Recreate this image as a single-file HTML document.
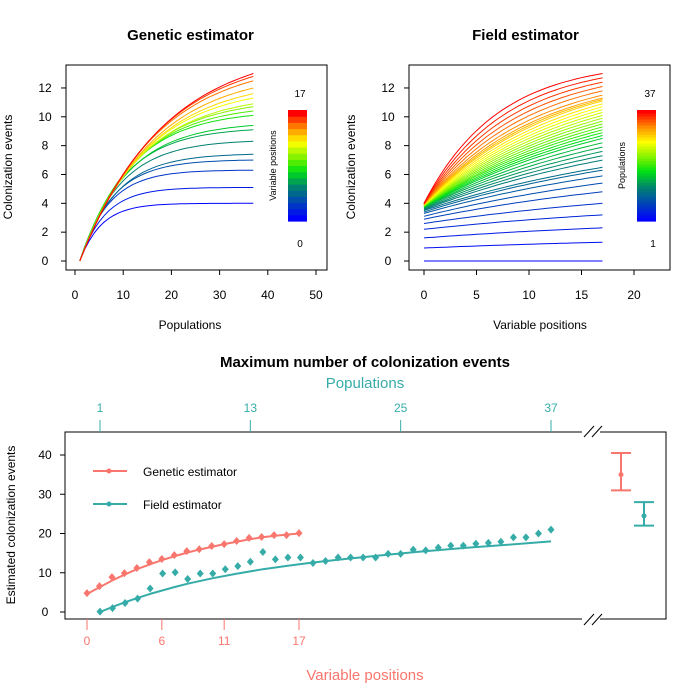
<!DOCTYPE html>
<html><head><meta charset="utf-8"><style>
body{margin:0;background:#fff;}
svg{display:block;font-family:"Liberation Sans",sans-serif;}
</style></head><body>
<svg id="c" width="700" height="700" xmlns="http://www.w3.org/2000/svg"></svg>
<script>
// ---- data ----
var genEnds = [4.0,5.1,6.3,7.0,7.4,8.3,9.1,9.4,10.1,10.4,10.7,10.9,11.3,11.6,12.0,12.5,12.8,13.0];
var fieldStarts = [0,0.9,1.6,2.2,2.6,2.9,3.1,3.3,3.4,3.5,3.55,3.6,3.65,3.7,3.72,3.74,3.76,3.78,3.8,3.8,3.82,3.84,3.85,3.86,3.87,3.88,3.89,3.9,3.9,3.9,3.92,3.93,3.94,3.95,3.96,3.98,4.0];
var fieldEnds = [0,1.3,2.3,3.2,4.0,4.8,5.4,5.9,6.3,6.5,7.0,7.3,7.6,7.9,8.2,8.5,8.7,8.9,9.1,9.3,9.5,9.7,9.9,10.1,10.3,10.5,10.7,10.9,11.1,11.2,11.3,11.5,11.8,12.1,12.4,12.7,13.0];
var genPoints = [4.8,6.6,8.9,9.9,11.2,12.7,13.5,14.5,15.5,16.0,16.8,17.3,18.1,18.9,19.1,19.6,19.6,20.1];
var genFit = [4.6,6.3,8.0,9.5,10.9,12.1,13.2,14.2,15.1,15.9,16.6,17.3,17.9,18.5,19.0,19.4,19.7,20.0];
var fieldPoints = [0.1,1.0,2.3,3.4,6.0,9.8,10.1,8.4,9.8,9.8,10.9,11.7,12.8,15.3,13.4,13.9,13.9,12.5,13.0,13.9,13.9,13.9,13.9,14.8,14.8,15.9,15.7,16.4,16.9,16.9,17.4,17.6,17.9,19.0,19.0,20.0,21.0];
var fieldFitX = [1,2,3,4,5,6,7,8,10,12,14,16,18,20,23,26,30,33,37];
var fieldFitY = [0,1.3,2.5,3.6,4.6,5.5,6.4,7.2,8.6,9.8,10.9,11.8,12.6,13.3,14.3,15.2,16.3,17.0,18.0];
var genCI = [31,35,40.5];
var fieldCI = [22,24.5,28];
var leftXTicks=[0,10,20,30,40,50], rightXTicks=[0,5,10,15,20], yTicks=[0,2,4,6,8,10,12];
var botYTicks=[0,10,20,30,40], vpTicks=[0,6,11,17], popTicks=[1,13,25,37];

var S=document.getElementById('c'), NS='http://www.w3.org/2000/svg';
function el(t,a,txt,p){var e=document.createElementNS(NS,t);for(var k in a)e.setAttribute(k,a[k]);if(txt!=null)e.textContent=txt;(p||S).appendChild(e);return e;}
var RED='#F8766D', TEAL='#36ACA8';
function ramp(t){var st=[[0,0,0,255],[0.18,0,80,170],[0.3,0,130,110],[0.45,0,225,20],[0.55,100,240,0],[0.72,255,255,0],[0.85,255,150,0],[1,255,0,0]];
 for(var i=1;i<st.length;i++){if(t<=st[i][0]){var a=st[i-1],b=st[i],f=(t-a[0])/(b[0]-a[0]);return 'rgb('+[1,2,3].map(function(j){return Math.round(a[j]+f*(b[j]-a[j]))}).join(',')+')';}}return 'rgb(255,0,0)';}

function panel(name,bx,x0,xs,title,xlab,xt,cbx,cbTop,cbBot,cbTitle,n){
 var g=el('g',{});
 var X=function(v){return x0+v*xs}, Y=function(v){return 261-v*14.42};
 var t=el('text',{x:bx[0]+(bx[2]-bx[0])/2+(name=='genetic-panel'?-6:-14),y:40,'text-anchor':'middle','font-size':15,'font-weight':'bold'},title,g);
 var r=el('rect',{x:bx[0],y:65,width:bx[2]-bx[0],height:205,fill:'none',stroke:'#000'},null,g);
 yTicks.forEach(function(v){el('line',{x1:bx[0],x2:bx[0]-5,y1:Y(v),y2:Y(v),stroke:'#000'},null,g);var l=el('text',{x:bx[0]-21,y:Y(v)+4,'text-anchor':'middle','font-size':12},v,g);});
 xt.forEach(function(v){el('line',{x1:X(v),x2:X(v),y1:270,y2:275,stroke:'#000'},null,g);var l=el('text',{x:X(v),y:299,'text-anchor':'middle','font-size':12},v,g);});
 var yl=el('text',{transform:'translate('+(bx[0]-54)+',167) rotate(-90)','text-anchor':'middle','font-size':12},'Colonization events',g);
 var xl=el('text',{x:X(xt[0])+ (name=='genetic-panel'?115:116),y:329,'text-anchor':'middle','font-size':12},xlab,g);
 for(var i=0;i<n;i++){var c=el('rect',{x:cbx,y:cbTop+(cbBot-cbTop)*(n-1-i)/n,width:19,height:(cbBot-cbTop)/n+0.6,fill:ramp(i/(n-1))},null,g);}
 var ct=el('text',{transform:'translate('+(cbx-12)+','+((cbTop+cbBot)/2)+') rotate(-90)','text-anchor':'middle','font-size':9},cbTitle,g);
 return {g:g,X:X,Y:Y};
}
// left
var L=panel('genetic-panel',[66,0,327],75,241/50,'Genetic estimator','Populations',leftXTicks,288,110,221,'Variable positions',18);
var lt=el('text',{x:300,y:97,'text-anchor':'middle','font-size':10},'17',L.g);
lt=el('text',{x:300,y:247,'text-anchor':'middle','font-size':10},'0',L.g);
genEnds.forEach(function(e,i){var k=4.5+13*i/(genEnds.length-1),d='';
 for(var x=1;x<=37;x++){var y=e*(1-Math.exp(-(x-1)/k))/(1-Math.exp(-36/k));d+=(x==1?'M':'L')+L.X(x).toFixed(1)+','+L.Y(y).toFixed(1);}
 var p=el('path',{d:d,fill:'none',stroke:ramp(i/(genEnds.length-1)),'stroke-width':1},null,L.g);});
// right
var R=panel('field-panel',[409,0,670],424,10.5,'Field estimator','Variable positions',rightXTicks,637,110,221,'Populations',37);
lt=el('text',{x:650,y:97,'text-anchor':'middle','font-size':10},'37',R.g);
lt=el('text',{x:653,y:247,'text-anchor':'middle','font-size':10},'1',R.g);
fieldEnds.forEach(function(e,i){var s=fieldStarts[i],k=30-23*i/(fieldEnds.length-1),d='';
 for(var x=0;x<=17;x+=0.5){var y=s+(e-s)*(1-Math.exp(-x/k))/(1-Math.exp(-17/k));d+=(x==0?'M':'L')+R.X(x).toFixed(1)+','+R.Y(y).toFixed(1);}
 var p=el('path',{d:d,fill:'none',stroke:ramp(i/(fieldEnds.length-1)),'stroke-width':1},null,R.g);});

// bottom
var B=el('g',{});
var VX=function(v){return 87+v*212/17}, PX=function(v){return 100+(v-1)*451/36}, BY=function(v){return 612-v*3.925};
var t=el('text',{x:365,y:367,'text-anchor':'middle','font-size':15,'font-weight':'bold'},'Maximum number of colonization events',B);
t=el('text',{x:365,y:388,'text-anchor':'middle','font-size':15,fill:TEAL},'Populations',B);
t=el('text',{x:365,y:680,'text-anchor':'middle','font-size':15,fill:RED},'Variable positions',B);
t=el('text',{transform:'translate(15,525) rotate(-90)','text-anchor':'middle','font-size':12},'Estimated colonization events',B);
var fr=el('rect',{x:65,y:432,width:601,height:187,fill:'none',stroke:'#000'},null,B);
// break marks
el('rect',{x:582,y:425,width:18,height:200,fill:'#fff'},null,B);
[[584,594],[592,602]].forEach(function(b){el('line',{x1:b[0],y1:437,x2:b[1],y2:426,stroke:'#000'},null,B);el('line',{x1:b[0],y1:625,x2:b[1],y2:614,stroke:'#000'},null,B);});
botYTicks.forEach(function(v){el('line',{x1:65,x2:60,y1:BY(v),y2:BY(v),stroke:'#000'},null,B);var l=el('text',{x:45,y:BY(v)+4,'text-anchor':'middle','font-size':12},v,B);});
vpTicks.forEach(function(v){el('line',{x1:VX(v),x2:VX(v),y1:619,y2:630,stroke:RED},null,B);var l=el('text',{x:VX(v),y:645,'text-anchor':'middle','font-size':12,fill:RED},v,B);});
popTicks.forEach(function(v){el('line',{x1:PX(v),x2:PX(v),y1:420,y2:432,stroke:TEAL},null,B);var l=el('text',{x:PX(v),y:412,'text-anchor':'middle','font-size':12,fill:TEAL},v,B);});
// fits
var d='';genFit.forEach(function(v,i){d+=(i?'L':'M')+VX(i)+','+BY(v);});
var p=el('path',{d:d,fill:'none',stroke:RED,'stroke-width':2},null,B);
d='';fieldFitX.forEach(function(x,i){d+=(i?'L':'M')+PX(x).toFixed(1)+','+BY(fieldFitY[i]).toFixed(1);});
p=el('path',{d:d,fill:'none',stroke:TEAL,'stroke-width':2,'stroke-linejoin':'round'},null,B);
function dia(x,y,c,nm){var q=el('path',{d:'M'+x+','+(y-4)+'L'+(x+3.5)+','+y+'L'+x+','+(y+4)+'L'+(x-3.5)+','+y+'Z',fill:c},null,B);}
genPoints.forEach(function(v,i){dia(VX(i),BY(v),RED,'genetic-point');});
fieldPoints.forEach(function(v,i){dia(PX(i+1),BY(v),TEAL,'field-point');});
function ci(x,a,c,nm){var g=el('g',{},null,B);
 el('line',{x1:x,x2:x,y1:BY(a[0]),y2:BY(a[2]),stroke:c,'stroke-width':2},null,g);
 el('line',{x1:x-10,x2:x+10,y1:BY(a[0]),y2:BY(a[0]),stroke:c,'stroke-width':2},null,g);
 el('line',{x1:x-10,x2:x+10,y1:BY(a[2]),y2:BY(a[2]),stroke:c,'stroke-width':2},null,g);
 el('circle',{cx:x,cy:BY(a[1]),r:2.5,fill:c},null,g);}
ci(621,genCI,RED,'genetic-interval');ci(644,fieldCI,TEAL,'field-interval');
// legend
[[471,RED,'Genetic estimator','legend-genetic'],[504,TEAL,'Field estimator','legend-field']].forEach(function(L2){
 var g=el('g',{},null,B);
 el('line',{x1:93,x2:127,y1:L2[0],y2:L2[0],stroke:L2[1],'stroke-width':2},null,g);
 el('circle',{cx:109,cy:L2[0],r:2.5,fill:L2[1]},null,g);
 el('text',{x:143,y:L2[0]+5,'font-size':12},L2[2],g);});
</script>
</body></html>
